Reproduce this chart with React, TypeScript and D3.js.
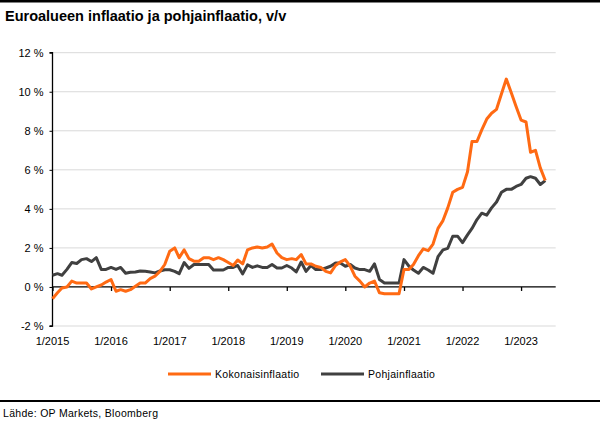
import * as d3 from "d3";

import React, { useEffect, useRef } from "react";

// Monthly, 1/2015 - 6/2023, % y/y
const startYear = 2015;

const headline: number[] = [
  // 2015
  -0.6, -0.3, -0.05, 0.0, 0.3, 0.2, 0.2, 0.2, -0.1, 0.0, 0.1, 0.25,
  // 2016
  0.38, -0.22, -0.14, -0.22, -0.14, 0.03, 0.2, 0.2, 0.43, 0.55, 0.8, 1.15,
  // 2017
  1.83, 2.0, 1.5, 1.9, 1.45, 1.32, 1.32, 1.5, 1.5, 1.4, 1.5, 1.4,
  // 2018
  1.25, 1.1, 1.38, 1.18, 1.9, 2.0, 2.05, 2.0, 2.05, 2.2, 1.74, 1.5,
  // 2019
  1.4, 1.45, 1.4, 1.66, 1.18, 1.18, 1.06, 1.0, 0.8, 0.72, 1.1, 1.28,
  // 2020
  1.4, 1.06, 0.55, 0.3, 0.0, 0.2, 0.3, -0.3, -0.35, -0.35, -0.35, -0.35,
  // 2021
  0.9, 0.9, 1.15, 1.6, 1.95, 1.86, 2.2, 3.0, 3.4, 4.05, 4.85, 5.0,
  // 2022
  5.1, 5.9, 7.45, 7.45, 8.05, 8.6, 8.9, 9.1, 9.9, 10.65, 9.95, 9.25,
  // 2023
  8.55, 8.45, 6.9, 7.0, 6.1, 5.45,
];

const core: number[] = [
  // 2015
  0.6, 0.68, 0.6, 0.9, 1.25, 1.2, 1.4, 1.45, 1.3, 1.5, 0.9, 0.9,
  // 2016
  1.0, 0.9, 1.0, 0.7, 0.75, 0.77, 0.82, 0.8, 0.77, 0.72, 0.82, 0.88,
  // 2017
  0.88, 0.8, 0.68, 1.25, 0.95, 1.15, 1.15, 1.15, 1.15, 0.87, 0.87, 0.87,
  // 2018
  1.0, 1.0, 1.1, 0.67, 1.13, 1.0, 1.08, 1.0, 1.0, 1.15, 0.97, 0.97,
  // 2019
  1.1, 0.97, 0.77, 1.28, 0.8, 1.1, 0.89, 0.89, 0.97, 1.06, 1.23, 1.23,
  // 2020
  1.06, 1.15, 0.97, 0.89, 0.89, 0.8, 1.18, 0.38, 0.2, 0.2, 0.2, 0.2,
  // 2021
  1.4, 1.06, 0.87, 0.7, 1.0, 0.87, 0.7, 1.55, 1.9, 1.98, 2.6, 2.6,
  // 2022
  2.27, 2.67, 3.0, 3.45, 3.78, 3.68, 4.05, 4.35, 4.85, 5.0, 5.0, 5.15,
  // 2023
  5.25, 5.57, 5.65, 5.57, 5.25, 5.45,
];

const seriesNames = ["Kokonaisinflaatio", "Pohjainflaatio"];
const seriesColors = ["#ff6a13", "#404040"];
const yTicks = [-2, 0, 2, 4, 6, 8, 10, 12];
const xTickYears = [2015, 2016, 2017, 2018, 2019, 2020, 2021, 2022, 2023];

const title = "Euroalueen inflaatio ja pohjainflaatio, v/v";
const source = "Lähde: OP Markets, Bloomberg";

const App: React.FC = () => {
  const svgRef = useRef<SVGSVGElement | null>(null);

  useEffect(() => {
    if (!svgRef.current) return;

    const width = 600;
    const height = 424;
    const font = "'Liberation Sans', Arial, sans-serif";

    const dates = headline.map((_, i) => new Date(startYear, i, 1));

    const x = d3
      .scaleTime()
      .domain([new Date(2015, 0, 1), new Date(2023, 7, 5)])
      .range([52.5, 555.7]);

    const y = d3.scaleLinear().domain([-2, 12]).range([326, 52.7]);

    const svg = d3.select(svgRef.current);
    svg.selectAll("*").remove();

    svg.append("rect").attr("width", width).attr("height", height).attr("fill", "#fff");

    // frame lines
    svg.append("rect").attr("x", 0).attr("y", 0).attr("width", width).attr("height", 2.5).attr("fill", "#000");
    svg.append("rect").attr("x", 0).attr("y", 400).attr("width", width).attr("height", 2).attr("fill", "#000");

    svg
      .append("text")
      .attr("x", 5)
      .attr("y", 21)
      .attr("font-family", font)
      .attr("font-size", 14.5)
      .attr("font-weight", "bold")
      .attr("fill", "#000")
      .text(title);

    // gridlines
    svg
      .append("g")
      .selectAll("line")
      .data(yTicks.filter((d) => d !== 0))
      .join("line")
      .attr("x1", x.range()[0])
      .attr("x2", x.range()[1])
      .attr("y1", (d) => y(d))
      .attr("y2", (d) => y(d))
      .attr("stroke", "#d9d9d9")
      .attr("stroke-width", 1);

    // y axis
    svg
      .append("g")
      .attr("transform", `translate(${x.range()[0]},0)`)
      .call(
        d3
          .axisLeft(y)
          .tickValues(yTicks)
          .tickSize(3)
          .tickPadding(6)
          .tickFormat((d) => `${d} %`),
      )
      .call((g) => g.select(".domain").attr("stroke", "#000").attr("stroke-width", 1.3).attr("d", `M-3,${y(12)}H0V${y(-2)}H-3`))
      .call((g) => g.selectAll(".tick line").attr("stroke", "#000"))
      .call((g) =>
        g
          .selectAll(".tick text")
          .attr("font-family", font)
          .attr("font-size", 11)
          .attr("fill", "#000"),
      );

    // zero line with year ticks
    svg
      .append("g")
      .attr("transform", `translate(0,${y(0)})`)
      .call(
        d3
          .axisBottom(x)
          .tickValues(xTickYears.map((yr) => new Date(yr, 0, 1)))
          .tickSize(4)
          .tickFormat(() => ""),
      )
      .call((g) => g.select(".domain").attr("stroke", "#000").attr("stroke-width", 1.3).attr("d", `M${x.range()[0]},0H${x.range()[1]}`))
      .call((g) => g.selectAll(".tick line").attr("stroke", "#000").attr("stroke-width", 1.3));

    // x labels at bottom
    svg
      .append("g")
      .selectAll("text")
      .data(xTickYears)
      .join("text")
      .attr("x", (d) => x(new Date(d, 0, 1)))
      .attr("y", 345)
      .attr("text-anchor", "middle")
      .attr("font-family", font)
      .attr("font-size", 11)
      .attr("fill", "#000")
      .text((d) => `1/${d}`);

    const line = d3
      .line<number>()
      .x((_, i) => x(dates[i]))
      .y((d) => y(d));

    svg
      .append("g")
      .attr("fill", "none")
      .attr("stroke-width", 3)
      .attr("stroke-linejoin", "round")
      .selectAll("path")
      .data([core, headline])
      .join("path")
      .attr("stroke", (_, i) => seriesColors[1 - i])
      .attr("d", line);

    // legend
    const legendItems = [
      { name: seriesNames[0], color: seriesColors[0], x0: 168 },
      { name: seriesNames[1], color: seriesColors[1], x0: 321 },
    ];
    const lg = svg.append("g").selectAll("g").data(legendItems).join("g");
    lg.append("line")
      .attr("x1", (d) => d.x0)
      .attr("x2", (d) => d.x0 + 43)
      .attr("y1", 374)
      .attr("y2", 374)
      .attr("stroke", (d) => d.color)
      .attr("stroke-width", 3);
    lg.append("text")
      .attr("x", (d) => d.x0 + 47)
      .attr("y", 378)
      .attr("font-family", font)
      .attr("font-size", 10.5)
      .attr("letter-spacing", 0.3)
      .attr("fill", "#000")
      .text((d) => d.name);

    svg
      .append("text")
      .attr("x", 3)
      .attr("y", 417)
      .attr("font-family", font)
      .attr("font-size", 10.5)
      .attr("letter-spacing", 0.3)
      .attr("fill", "#000")
      .text(source);
  }, []);

  return (
    <svg
      ref={svgRef}
      width="600"
      height="424"
      style={{ position: "absolute", left: 0, top: 0, display: "block" }}
    />
  );
};

export default App;
